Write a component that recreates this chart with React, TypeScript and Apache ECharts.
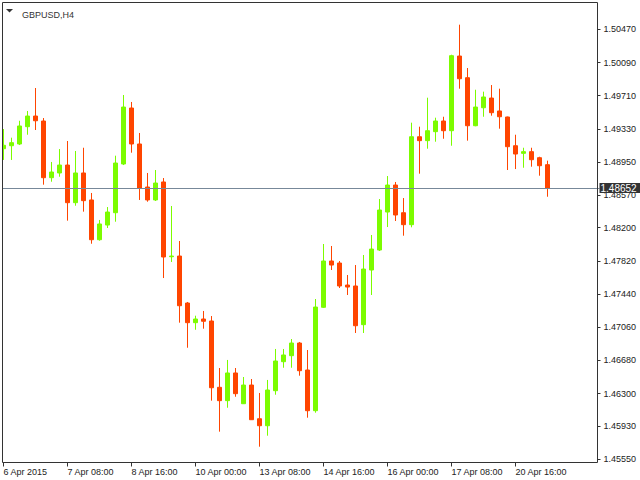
import React, { useEffect, useRef } from 'react';
import * as echarts from 'echarts';

const symbolName = 'GBPUSD,H4';
const days = ['6 Apr', '7 Apr', '8 Apr', '9 Apr', '10 Apr', '13 Apr', '14 Apr', '15 Apr', '16 Apr', '17 Apr', '20 Apr', '21 Apr'];
const hours = ['00:00', '04:00', '08:00', '12:00', '16:00', '20:00'];
const xTickLabels = ['6 Apr 2015', '7 Apr 08:00', '8 Apr 16:00', '10 Apr 00:00', '13 Apr 08:00', '14 Apr 16:00', '16 Apr 00:00', '17 Apr 08:00', '20 Apr 16:00'];
const yTickValues = [1.4555, 1.4593, 1.463, 1.4668, 1.4706, 1.4744, 1.4782, 1.482, 1.4857, 1.4895, 1.4933, 1.4971, 1.5009, 1.5047];
const currentPrice = 1.48652;

const opens = [
  1.49103, 1.49137, 1.49157, 1.49355, 1.49477, 1.4942, 1.48771, 1.48825, 1.48916, 1.48485,
  1.48825, 1.48516, 1.48061, 1.48229, 1.4837, 1.48928, 1.49569, 1.49157, 1.48664, 1.48516,
  1.48722, 1.47866, 1.47874, 1.47336, 1.47111, 1.47153, 1.4713, 1.46371, 1.46218, 1.46535,
  1.46183, 1.46397, 1.46011, 1.45931, 1.46332, 1.46664, 1.46733, 1.46878, 1.46569, 1.46103,
  1.47287, 1.47817, 1.47794, 1.47542, 1.47531, 1.47088, 1.47714, 1.47943, 1.48378, 1.48687,
  1.4837, 1.48233, 1.4924, 1.49195, 1.49298, 1.4942, 1.49309, 1.50164, 1.49916, 1.49366,
  1.49572, 1.49683, 1.49535, 1.49466, 1.49137, 1.4905, 1.49069, 1.49, 1.4892,
];
const closes = [
  1.49142, 1.49172, 1.49363, 1.49477, 1.49423, 1.48771, 1.48836, 1.48916, 1.48485, 1.48825,
  1.48508, 1.48061, 1.48241, 1.48378, 1.48939, 1.4958, 1.49157, 1.48653, 1.48516, 1.4871,
  1.47863, 1.47874, 1.47305, 1.47111, 1.47153, 1.47127, 1.46366, 1.46218, 1.46535, 1.46298,
  1.46397, 1.46, 1.45931, 1.4634, 1.46672, 1.46741, 1.46878, 1.46561, 1.46103, 1.4729,
  1.47817, 1.47771, 1.47531, 1.47519, 1.47076, 1.47725, 1.47954, 1.48401, 1.48687, 1.48344,
  1.48233, 1.4924, 1.49195, 1.49309, 1.4942, 1.49309, 1.50168, 1.49904, 1.49366, 1.4958,
  1.49695, 1.49515, 1.49469, 1.49126, 1.49042, 1.49069, 1.48977, 1.48908, 1.48652,
];
const lows = [
  1.48974, 1.48974, 1.49145, 1.49263, 1.49317, 1.48691, 1.48725, 1.48782, 1.48279, 1.4845,
  1.48382, 1.48015, 1.4805, 1.48195, 1.48267, 1.48916, 1.49057, 1.48516, 1.48496, 1.48504,
  1.47622, 1.47806, 1.47111, 1.46824, 1.4703, 1.47042, 1.46218, 1.45863, 1.46137, 1.46263,
  1.4618, 1.45997, 1.45691, 1.45817, 1.46286, 1.46595, 1.46595, 1.46504, 1.46023, 1.4608,
  1.47279, 1.47714, 1.47508, 1.47428, 1.46993, 1.46993, 1.47428, 1.47932, 1.48206, 1.48275,
  1.48107, 1.48203, 1.48817, 1.49103, 1.49183, 1.49217, 1.49137, 1.4979, 1.49195, 1.4936,
  1.49469, 1.49481, 1.49332, 1.48859, 1.4887, 1.48885, 1.48897, 1.48794, 1.48553,
];
const highs = [
  1.49328, 1.49229, 1.49423, 1.49535, 1.49798, 1.49454, 1.48951, 1.49099, 1.49191, 1.49077,
  1.49114, 1.48596, 1.48287, 1.48435, 1.49023, 1.49718, 1.49638, 1.49283, 1.48825, 1.48859,
  1.48767, 1.48447, 1.48046, 1.47348, 1.47191, 1.47245, 1.47187, 1.46592, 1.46684, 1.46592,
  1.46489, 1.46466, 1.46306, 1.46455, 1.4681, 1.4681, 1.46924, 1.4689, 1.46798, 1.47382,
  1.48012, 1.47989, 1.47817, 1.47657, 1.47771, 1.47886, 1.48115, 1.48527, 1.4879, 1.48722,
  1.48538, 1.49401, 1.49355, 1.49687, 1.49458, 1.49469, 1.50179, 1.50523, 1.50027, 1.49778,
  1.49756, 1.49832, 1.4979, 1.4947, 1.49263, 1.49114, 1.49114, 1.49011, 1.48966,
];

const FUTURE_SLOTS = 6;
const FONT = 'Liberation Sans';

export default function App() {
  const ref = useRef<HTMLDivElement>(null);

  useEffect(() => {
    if (!ref.current) return;
    const chart = echarts.init(ref.current, undefined, { renderer: 'svg' });

    const categories: string[] = [];
    for (const d of days) for (const h of hours) categories.push(d + ' ' + h);
    const barCount = opens.length;
    const cats = categories.slice(0, barCount);
    for (let i = 0; i < FUTURE_SLOTS; i++) cats.push('');

    const data = opens.map((o, i) => [o, closes[i], lows[i], highs[i]]);
    const showTick = (i: number) => i % 8 === 0 && i < barCount;

    const option: any = {
      animation: false,
      backgroundColor: '#ffffff',
      title: {
        text: symbolName,
        left: 17,
        top: 5,
        textStyle: { fontFamily: FONT, fontSize: 9, fontWeight: 'normal', color: '#333333' },
      },
      grid: {
        left: -0.5,
        top: 2.5,
        width: 600,
        height: 460,
        containLabel: false,
        outerBoundsMode: 'none',
      },
      xAxis: {
        type: 'category',
        data: cats,
        boundaryGap: true,
        axisLine: { show: false },
        axisTick: {
          show: true,
          alignWithLabel: true,
          length: 4,
          interval: (i: number) => showTick(i),
          lineStyle: { color: '#333333' },
        },
        axisLabel: {
          interval: (i: number) => showTick(i),
          formatter: (_v: string, i: number) => xTickLabels[i / 8] ?? '',
          align: 'left',
          margin: 5,
          color: '#222222',
          fontFamily: FONT,
          fontSize: 9,
        },
        splitLine: { show: false },
      },
      yAxis: {
        type: 'value',
        position: 'right',
        offset: -2,
        min: 1.4551,
        max: 1.50777,
        axisLine: { show: false },
        axisTick: { show: true, length: 3, customValues: yTickValues, lineStyle: { color: '#333333' } },
        axisLabel: {
          customValues: yTickValues,
          formatter: (v: number) => v.toFixed(5),
          margin: 6,
          color: '#222222',
          fontFamily: FONT,
          fontSize: 9,
        },
        splitLine: { show: false },
      },
      series: [
        {
          type: 'candlestick',
          data,
          barWidth: 4,
          itemStyle: {
            color: '#7CFC00',
            color0: '#FF4500',
            borderColor: '#7CFC00',
            borderColor0: '#FF4500',
            borderWidth: 1,
          },
          markLine: {
            silent: true,
            symbol: ['none', 'none'],
            precision: 5,
            data: [{ yAxis: currentPrice }],
            lineStyle: { color: '#778899', width: 1, type: 'solid' },
            label: {
              show: true,
              position: 'end',
              distance: 0,
              formatter: () => currentPrice.toFixed(5),
              color: '#ffffff',
              backgroundColor: '#333333',
              padding: [0, 6, 0, 1],
              lineHeight: 10,
              fontFamily: FONT,
              fontSize: 10,
            },
            emphasis: { disabled: true },
          },
        },
      ],
      graphic: [
        {
          type: 'rect',
          z: 99,
          silent: true,
          shape: { x: 0, y: 0, width: 2, height: 480 },
          style: { fill: '#ffffff' },
        },
        {
          type: 'rect',
          z: 100,
          silent: true,
          shape: { x: 2.5, y: 2.5, width: 595, height: 460 },
          style: { fill: 'none', stroke: '#333333', lineWidth: 1 },
        },
        {
          type: 'polygon',
          z: 100,
          silent: true,
          shape: { points: [[6, 9], [13, 9], [9.5, 12.5]] },
          style: { fill: '#333333' },
        },
      ],
    };

    chart.setOption(option);
    return () => chart.dispose();
  }, []);

  return <div ref={ref} style={{ position: 'fixed', left: 0, top: 0, width: 640, height: 480 }} />;
}
